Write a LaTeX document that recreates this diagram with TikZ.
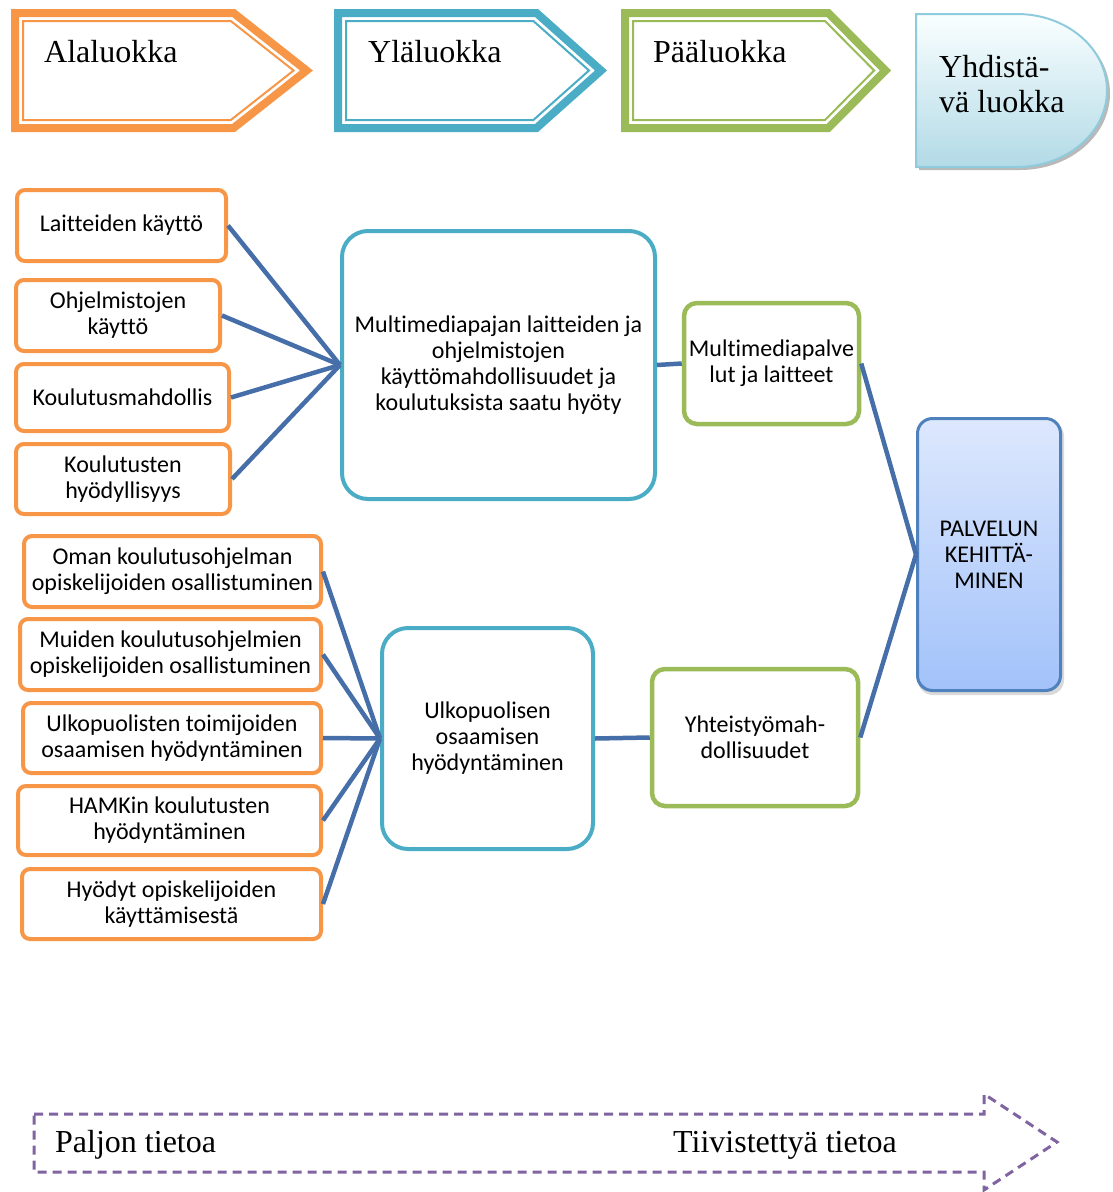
\documentclass[tikz,border=0pt]{standalone}
\usepackage{fontspec}
\setmainfont{Liberation Serif}
\newfontfamily\carl[Ligatures={NoCommon}]{Carlito}
\definecolor{orng}{HTML}{F79646}
\definecolor{tealb}{HTML}{4BACC6}
\definecolor{grn}{HTML}{9BBB59}
\definecolor{conn}{RGB}{70,110,168}
\definecolor{pblue}{HTML}{4F81BD}
\definecolor{purp}{HTML}{8064A2}
\definecolor{ybord}{HTML}{8FCBDC}
\tikzset{
  base/.style={font=\carl\fontsize{24}{26}\selectfont, align=center, inner sep=0pt, fill=white},
  obox/.style={base, draw=orng, line width=4pt, rounded corners=8pt},
  tbox/.style={base, draw=tealb, line width=4pt, rounded corners=26pt},
  gbox/.style={base, draw=grn, line width=4.5pt, rounded corners=13pt},
  conline/.style={draw=conn, line width=4.5pt},
  hdrtxt/.style={font=\fontsize{32}{35}\selectfont, inner sep=0pt, anchor=base west},
  band/.style={line width=8pt, miter limit=20},
  thin/.style={line width=2pt, miter limit=20},
}
\begin{document}
\begin{tikzpicture}[x=1pt,y=-1pt]
\useasboundingbox (0,0) rectangle (1113,1192);
% header arrows
\draw[orng,band] (15,13) -- (233.6,13) -- (306.5,70.5) -- (233.6,128) -- (15,128) -- cycle;
\draw[orng,thin] (23,21) -- (230.8,21) -- (293.6,70.5) -- (230.8,120) -- (23,120) -- cycle;
\node[hdrtxt] (h1) at (44,62) {Alaluokka};
\draw[tealb,band] (338,13) -- (536.5,13) -- (601,70.5) -- (536.5,128) -- (338,128) -- cycle;
\draw[tealb,thin] (346,21) -- (533.4,21) -- (589,70.5) -- (533.4,120) -- (346,120) -- cycle;
\node[hdrtxt] (h2) at (368,62) {Yläluokka};
\draw[grn,band] (625,13) -- (828.3,13) -- (885.4,70.5) -- (828.3,128) -- (625,128) -- cycle;
\draw[grn,thin] (633,21) -- (825,21) -- (874.1,70.5) -- (825,120) -- (633,120) -- cycle;
\node[hdrtxt] (h3) at (653,62) {Pääluokka};
% Yhdistava luokka
\fill[gray!55] (919,17) -- (1020,17) arc[start angle=-90,end angle=90,x radius=90,y radius=76.5] -- (919,170) -- cycle;
\shade[top color=white!90!cyan!20, bottom color={rgb,255:red,178;green,218;blue,230}, draw=ybord, line width=2pt]
  (916,14) -- (1017,14) arc[start angle=-90,end angle=90,x radius=90,y radius=76.5] -- (916,167) -- cycle;
\node[hdrtxt] (h4a) at (939,77) {Yhdistä-};
\node[hdrtxt] (h4b) at (939,112) {vä luokka};
% top group
\node[obox, minimum width=209pt, minimum height=71pt] (a1) at (121.5,225.5) {Laitteiden käyttö};
\node[obox, minimum width=204pt, minimum height=71pt] (a2) at (118,315.5) {Ohjelmistojen\\käyttö};
\node[obox, minimum width=213pt, minimum height=67pt] (a3) at (122.5,397.5) {Koulutusmahdollis};
\node[obox, minimum width=214pt, minimum height=70pt] (a4) at (123,479) {Koulutusten\\hyödyllisyys};
\node[tbox, minimum width=313pt, minimum height=268pt] (b1) at (498.5,365) {Multimediapajan laitteiden ja\\ohjelmistojen\\käyttömahdollisuudet ja\\koulutuksista saatu hyöty};
\node[gbox, minimum width=175pt, minimum height=121pt] (g1) at (771.5,363.5) {Multimediapalve\\lut ja laitteet};
% bottom group
\node[obox, minimum width=297pt, minimum height=71pt] (c1) at (172.5,571.5) {Oman koulutusohjelman\\opiskelijoiden osallistuminen};
\node[obox, minimum width=301pt, minimum height=71pt] (c2) at (170.5,654.5) {Muiden koulutusohjelmien\\opiskelijoiden osallistuminen};
\node[obox, minimum width=298pt, minimum height=70pt] (c3) at (172,738) {Ulkopuolisten toimijoiden\\osaamisen hyödyntäminen};
\node[obox, minimum width=303pt, minimum height=69pt] (c4) at (169.5,820.5) {HAMKin koulutusten\\hyödyntäminen};
\node[obox, minimum width=299pt, minimum height=70pt] (c5) at (171.5,904) {Hyödyt opiskelijoiden\\käyttämisestä};
\node[tbox, minimum width=211pt, minimum height=221pt] (b2) at (487.5,738.5) {Ulkopuolisen\\osaamisen\\hyödyntäminen};
\node[gbox, minimum width=206pt, minimum height=137pt] (g2) at (755,737.5) {Yhteistyömah-\\dollisuudet};
% final box
\fill[gray!30, rounded corners=15pt] (918,421) rectangle (1064,695);
\node[base, fill=none, draw=pblue, line width=3pt, rounded corners=15pt, minimum width=143pt, minimum height=272pt,
  top color={rgb,255:red,221;green,232;blue,253}, bottom color={rgb,255:red,162;green,194;blue,250}] (p) at (989,554.5) {PALVELUN\\KEHITTÄ-\\MINEN};
% connectors
\foreach \n in {a1,a2,a3,a4} \draw[conline] (\n.east) -- (b1.west);
\foreach \n in {c1,c2,c3,c4,c5} \draw[conline] (\n.east) -- (b2.west);
\draw[conline] (b1.east) -- (g1.west);
\draw[conline] (b2.east) -- (g2.west);
\draw[conline] (g1.east) -- (p.west);
\draw[conline] (g2.east) -- (p.west);
% bottom dashed arrow
\draw[purp, line width=3pt, dash pattern=on 9pt off 6pt]
  (34,1114) -- (984,1114) -- (984,1094) -- (1057,1142) -- (984,1190) -- (984,1172) -- (34,1172) -- cycle;
\node[hdrtxt] (t1) at (55,1152) {Paljon tietoa};
\node[hdrtxt] (t2) at (673,1152) {Tiivistettyä tietoa};
\end{tikzpicture}
\end{document}
